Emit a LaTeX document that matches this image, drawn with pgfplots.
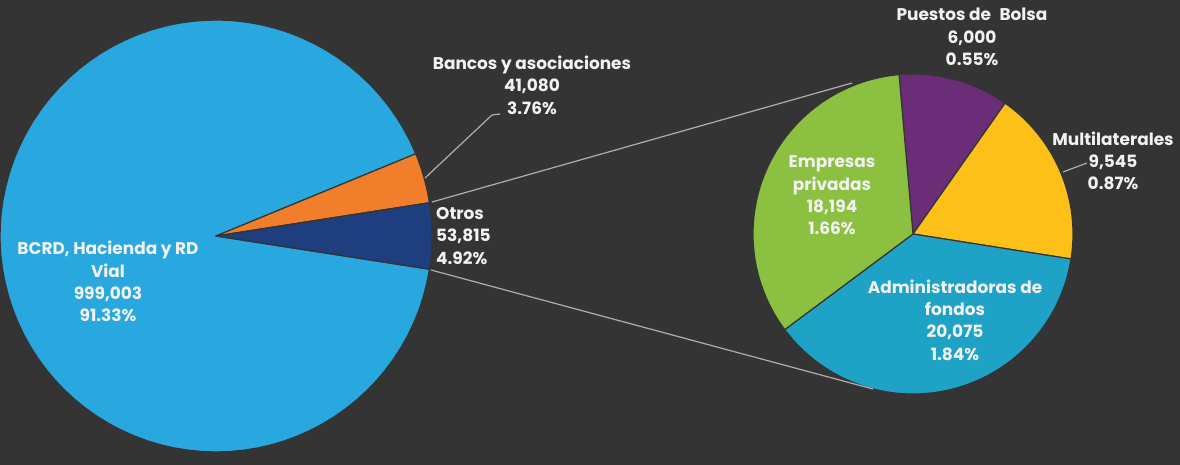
\documentclass[border=0pt]{standalone}
\usepackage{pgfplots}
\pgfplotsset{compat=1.18}
\usepackage{fontspec}
\setmainfont{Poppins}
\definecolor{bg}{RGB}{52,52,52}
\definecolor{cBCRD}{RGB}{41,168,224}
\definecolor{cBancos}{RGB}{240,126,42}
\definecolor{cOtros}{RGB}{31,62,125}
\definecolor{cEmp}{RGB}{139,192,64}
\definecolor{cPue}{RGB}{107,45,120}
\definecolor{cMul}{RGB}{252,192,24}
\definecolor{cAdm}{RGB}{30,163,199}
\definecolor{lineC}{RGB}{175,175,175}
\definecolor{txt}{RGB}{242,242,242}
\tikzset{lbl/.style={text=txt, inner sep=0pt, font=\fontsize{17}{22.4}\selectfont\bfseries}}
% wedge: cx, cy, r, angle from, angle to, colour
\newcommand\wedgeplot[6]{%
  \addplot[fill=#6, draw=bg, line width=1.2pt, line join=round,
    domain={#4}:{#5}, samples=90]
    ({#1+#3*cos(x)},{#2+#3*sin(x)}) -- (axis cs:#1,#2) -- cycle;
}
\begin{document}
\begin{tikzpicture}
\begin{axis}[
  x=1bp, y=1bp, xmin=0, xmax=1180, ymin=0, ymax=465,
  scale only axis, hide axis, clip=true
]
\fill[bg] (rel axis cs:0,0) rectangle (rel axis cs:1,1);
% left pie (thousands): Otros 53.815, Bancos 41.080, BCRD 999.003 ; total 1093.898
\wedgeplot{216}{229}{216}{-8.85+(94.895/1093.898)*360}{351.15}{cBCRD}
\wedgeplot{216}{229}{216}{-8.85+(53.815/1093.898)*360}{-8.85+(94.895/1093.898)*360}{cBancos}
\wedgeplot{216}{229}{216}{-8.85}{-8.85+(53.815/1093.898)*360}{cOtros}
% right pie (thousands): Puestos 6.000, Multilaterales 9.545, Administradoras 20.075, Empresas 18.194 ; total 53.814
\wedgeplot{913}{231}{160}{95-(6.000/53.814)*360}{95}{cPue}
\wedgeplot{913}{231}{160}{95-(15.545/53.814)*360}{95-(6.000/53.814)*360}{cMul}
\wedgeplot{913}{231}{160}{95-(35.620/53.814)*360}{95-(15.545/53.814)*360}{cAdm}
\wedgeplot{913}{231}{160}{95-360}{95-(35.620/53.814)*360}{cEmp}
% connector lines
\addplot[lineC, line width=1.2pt] coordinates {(432,263) (852,382)};
\addplot[lineC, line width=1.2pt] coordinates {(431,195) (873,76)};
\addplot[lineC, line width=1.2pt] coordinates {(425,287) (492,350) (500,351)};
\addplot[lineC, line width=1.2pt] coordinates {(1063,293) (1087,302)};
% labels
\node[lbl, align=center] at (axis cs:108,183.5) {BCRD, Hacienda y RD\\Vial\\999,003\\91.33\%};
\node[lbl, align=center] at (axis cs:532,380) {Bancos y asociaciones\\41,080\\3.76\%};
\node[lbl, align=left, anchor=west] at (axis cs:436,229) {Otros\\53,815\\4.92\%};
\node[lbl, align=center] at (axis cs:972,428) {Puestos de\enspace Bolsa\\6,000\\0.55\%};
\node[lbl, align=center] at (axis cs:1113,304) {Multilaterales\\9,545\\0.87\%};
\node[lbl, align=center] at (axis cs:832,269.5) {Empresas\\privadas\\18,194\\1.66\%};
\node[lbl, align=center] at (axis cs:955,145) {Administradoras de\\fondos\\20,075\\1.84\%};
\end{axis}
\pgfresetboundingbox
\path (0,0) rectangle (1180bp,465bp);
\end{tikzpicture}
\end{document}
